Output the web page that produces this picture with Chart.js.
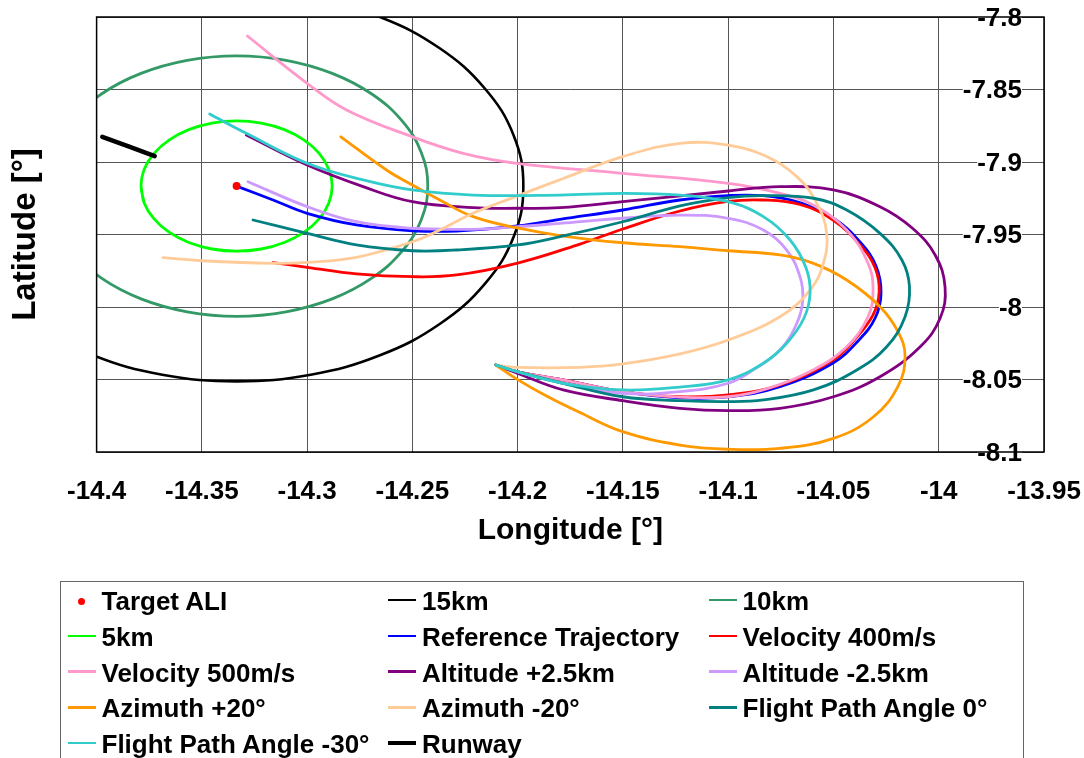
<!DOCTYPE html>
<html>
<head>
<meta charset="utf-8">
<script src="https://cdn.jsdelivr.net/npm/chart.js@4.4.1/dist/chart.umd.min.js"></script>
<style>
  html, body { margin:0; padding:0; background:#fff; }
  #wrap { position:relative; width:1084px; height:758px; overflow:hidden; background:#fff; }
  #chart { position:absolute; left:0; top:0; }
  #legendBox { position:absolute; left:60px; top:581px; width:964px; height:220px; border:1px solid #666; box-sizing:border-box; }
  .lg-text { position:absolute; height:32px; line-height:32px; font-family:"Liberation Sans", Arial, sans-serif; font-weight:bold; font-size:26px; color:#000; white-space:nowrap; }
  .lg-swatch { position:absolute; }
</style>
</head>
<body>
<div id="wrap">
  <canvas id="chart" width="1084" height="758"></canvas>
  <div id="legendBox"></div>
  <div id="legendItems"></div>
</div>
<script>
// ---------- axis ticks ----------
const xTicks = [-14.4, -14.35, -14.3, -14.25, -14.2, -14.15, -14.1, -14.05, -14, -13.95];
const xTickLabels = ['-14.4', '-14.35', '-14.3', '-14.25', '-14.2', '-14.15', '-14.1', '-14.05', '-14', '-13.95'];
const yTicks = [-8.1, -8.05, -8, -7.95, -7.9, -7.85, -7.8];
const yTickLabels = ['-8.1', '-8.05', '-8', '-7.95', '-7.9', '-7.85', '-7.8'];

// ---------- series: [longitude, latitude] ----------
const targetALI = [[-14.3335, -7.9166]];

const circle15km = [[-14.4697,-7.9166],[-14.4651,-7.9515],[-14.4514,-7.9840],[-14.4298,-8.0119],[-14.4016,-8.0333],[-14.3688,-8.0467],[-14.3335,-8.0513],[-14.2983,-8.0467],[-14.2654,-8.0333],[-14.2372,-8.0119],[-14.2156,-7.9840],[-14.2019,-7.9515],[-14.1973,-7.9166],[-14.2019,-7.8817],[-14.2156,-7.8493],[-14.2372,-7.8214],[-14.2654,-7.8000],[-14.2983,-7.7865],[-14.3335,-7.7819],[-14.3688,-7.7865],[-14.4016,-7.8000],[-14.4298,-7.8214],[-14.4514,-7.8493],[-14.4651,-7.8817],[-14.4697,-7.9166]];

const circle10km = [[-14.4243,-7.9166],[-14.4212,-7.9398],[-14.4121,-7.9615],[-14.3977,-7.9801],[-14.3789,-7.9944],[-14.3570,-8.0033],[-14.3335,-8.0064],[-14.3100,-8.0033],[-14.2881,-7.9944],[-14.2693,-7.9801],[-14.2549,-7.9615],[-14.2458,-7.9398],[-14.2427,-7.9166],[-14.2458,-7.8934],[-14.2549,-7.8717],[-14.2693,-7.8531],[-14.2881,-7.8389],[-14.3100,-7.8299],[-14.3335,-7.8268],[-14.3570,-7.8299],[-14.3789,-7.8389],[-14.3977,-7.8531],[-14.4121,-7.8717],[-14.4212,-7.8934],[-14.4243,-7.9166]];

const circle5km = [[-14.3789,-7.9166],[-14.3774,-7.9282],[-14.3728,-7.9391],[-14.3656,-7.9484],[-14.3562,-7.9555],[-14.3452,-7.9600],[-14.3335,-7.9615],[-14.3218,-7.9600],[-14.3108,-7.9555],[-14.3014,-7.9484],[-14.2942,-7.9391],[-14.2897,-7.9282],[-14.2881,-7.9166],[-14.2897,-7.9050],[-14.2942,-7.8942],[-14.3014,-7.8849],[-14.3108,-7.8777],[-14.3218,-7.8732],[-14.3335,-7.8717],[-14.3452,-7.8732],[-14.3562,-7.8777],[-14.3656,-7.8849],[-14.3728,-7.8942],[-14.3774,-7.9050],[-14.3789,-7.9166],[-14.3774,-7.9282]];

const referenceTrajectory = [[-14.3335,-7.9166],[-14.3162,-7.9262],[-14.3000,-7.9354],[-14.2766,-7.9434],[-14.2500,-7.9474],[-14.2290,-7.9476],[-14.2000,-7.9441],[-14.1799,-7.9395],[-14.1501,-7.9331],[-14.1229,-7.9262],[-14.1001,-7.9232],[-14.0835,-7.9232],[-14.0673,-7.9274],[-14.0502,-7.9386],[-14.0374,-7.9552],[-14.0298,-7.9717],[-14.0274,-7.9903],[-14.0302,-8.0076],[-14.0383,-8.0234],[-14.0502,-8.0386],[-14.0754,-8.0550],[-14.1001,-8.0619],[-14.1229,-8.0626],[-14.1501,-8.0584],[-14.1785,-8.0503],[-14.2004,-8.0446],[-14.2104,-8.0400]];

const velocity400 = [[-14.3162,-7.9694],[-14.3000,-7.9726],[-14.2766,-7.9772],[-14.2500,-7.9791],[-14.2290,-7.9779],[-14.2000,-7.9697],[-14.1704,-7.9566],[-14.1501,-7.9462],[-14.1229,-7.9338],[-14.1001,-7.9272],[-14.0835,-7.9262],[-14.0659,-7.9293],[-14.0502,-7.9400],[-14.0374,-7.9572],[-14.0302,-7.9731],[-14.0283,-7.9897],[-14.0312,-8.0055],[-14.0397,-8.0221],[-14.0502,-8.0366],[-14.0754,-8.0538],[-14.1001,-8.0607],[-14.1229,-8.0619],[-14.1501,-8.0584],[-14.1785,-8.0503],[-14.2004,-8.0446],[-14.2104,-8.0400]];

const velocity500 = [[-14.3284,-7.8131],[-14.3000,-7.8457],[-14.2813,-7.8641],[-14.2501,-7.8826],[-14.2259,-7.8940],[-14.2004,-7.9009],[-14.1501,-7.9078],[-14.1000,-7.9147],[-14.0754,-7.9216],[-14.0597,-7.9297],[-14.0437,-7.9469],[-14.0336,-7.9697],[-14.0312,-7.9883],[-14.0336,-8.0067],[-14.0437,-8.0274],[-14.0597,-8.0434],[-14.0835,-8.0572],[-14.1001,-8.0619],[-14.1229,-8.0621],[-14.1501,-8.0584],[-14.1785,-8.0503],[-14.2004,-8.0446],[-14.2104,-8.0400]];

const altitudePlus = [[-14.3289,-7.8814],[-14.3000,-7.9021],[-14.2734,-7.9170],[-14.2500,-7.9274],[-14.2212,-7.9315],[-14.2000,-7.9319],[-14.1799,-7.9315],[-14.1501,-7.9274],[-14.1000,-7.9200],[-14.0754,-7.9170],[-14.0500,-7.9193],[-14.0279,-7.9308],[-14.0126,-7.9455],[-14.0017,-7.9641],[-13.9970,-7.9862],[-13.9993,-8.0076],[-14.0088,-8.0274],[-14.0279,-8.0481],[-14.0500,-8.0619],[-14.0754,-8.0699],[-14.1000,-8.0715],[-14.1229,-8.0699],[-14.1501,-8.0646],[-14.1784,-8.0572],[-14.2002,-8.0457],[-14.2104,-8.0400]];

const altitudeMinus = [[-14.3281,-7.9136],[-14.3000,-7.9308],[-14.2766,-7.9412],[-14.2500,-7.9457],[-14.2212,-7.9464],[-14.2000,-7.9446],[-14.1799,-7.9423],[-14.1501,-7.9388],[-14.1229,-7.9366],[-14.1000,-7.9388],[-14.0833,-7.9469],[-14.0722,-7.9607],[-14.0659,-7.9791],[-14.0646,-7.9952],[-14.0674,-8.0112],[-14.0754,-8.0297],[-14.0881,-8.0434],[-14.1000,-8.0526],[-14.1229,-8.0584],[-14.1501,-8.0595],[-14.1784,-8.0526],[-14.2002,-8.0446],[-14.2104,-8.0400]];

const azimuthPlus = [[-14.2840,-7.8826],[-14.2623,-7.9055],[-14.2500,-7.9159],[-14.2370,-7.9262],[-14.2212,-7.9377],[-14.2001,-7.9455],[-14.1799,-7.9507],[-14.1501,-7.9557],[-14.1229,-7.9584],[-14.1000,-7.9612],[-14.0754,-7.9641],[-14.0595,-7.9699],[-14.0437,-7.9814],[-14.0279,-7.9998],[-14.0193,-8.0172],[-14.0160,-8.0338],[-14.0193,-8.0545],[-14.0310,-8.0757],[-14.0500,-8.0906],[-14.0754,-8.0975],[-14.1000,-8.0981],[-14.1229,-8.0952],[-14.1501,-8.0860],[-14.1704,-8.0728],[-14.1863,-8.0614],[-14.2002,-8.0499],[-14.2104,-8.0400]];

const azimuthMinus = [[-14.3685,-7.9660],[-14.3498,-7.9681],[-14.3162,-7.9699],[-14.3000,-7.9692],[-14.2766,-7.9657],[-14.2500,-7.9550],[-14.2370,-7.9469],[-14.2212,-7.9354],[-14.2001,-7.9234],[-14.1784,-7.9114],[-14.1501,-7.8963],[-14.1229,-7.8871],[-14.1000,-7.8883],[-14.0833,-7.8952],[-14.0674,-7.9101],[-14.0579,-7.9285],[-14.0532,-7.9492],[-14.0548,-7.9699],[-14.0611,-7.9883],[-14.0754,-8.0067],[-14.1000,-8.0228],[-14.1229,-8.0324],[-14.1501,-8.0393],[-14.1704,-8.0416],[-14.2002,-8.0416],[-14.2104,-8.0400]];

const fpa0 = [[-14.3257,-7.9400],[-14.3000,-7.9492],[-14.2766,-7.9572],[-14.2500,-7.9612],[-14.2290,-7.9607],[-14.2000,-7.9572],[-14.1799,-7.9515],[-14.1501,-7.9412],[-14.1229,-7.9303],[-14.1000,-7.9246],[-14.0833,-7.9232],[-14.0595,-7.9250],[-14.0437,-7.9331],[-14.0279,-7.9492],[-14.0175,-7.9676],[-14.0139,-7.9860],[-14.0160,-8.0067],[-14.0247,-8.0274],[-14.0389,-8.0434],[-14.0595,-8.0572],[-14.0833,-8.0641],[-14.1000,-8.0653],[-14.1229,-8.0646],[-14.1501,-8.0619],[-14.1784,-8.0526],[-14.2002,-8.0446],[-14.2104,-8.0400]];

const fpaMinus30 = [[-14.3463,-7.8669],[-14.3289,-7.8802],[-14.3000,-7.9009],[-14.2734,-7.9124],[-14.2501,-7.9193],[-14.2212,-7.9228],[-14.1799,-7.9228],[-14.1501,-7.9216],[-14.1229,-7.9228],[-14.1000,-7.9274],[-14.0833,-7.9377],[-14.0706,-7.9538],[-14.0630,-7.9731],[-14.0611,-7.9903],[-14.0640,-8.0076],[-14.0722,-8.0250],[-14.0833,-8.0388],[-14.1000,-8.0503],[-14.1229,-8.0552],[-14.1501,-8.0572],[-14.1784,-8.0526],[-14.2002,-8.0446],[-14.2104,-8.0400]];

const runway = [[-14.3973,-7.8826],[-14.3724,-7.8959]];

// ---------- build chart ----------
const FONT = '"Liberation Sans", Arial, sans-serif';
const toXY = arr => arr.map(p => ({ x: p[0], y: p[1] }));

function lineSet(label, data, color, width, order) {
  return { label, data: toXY(data), showLine: true, borderColor: color, backgroundColor: color,
           borderWidth: width, pointRadius: 0, pointHoverRadius: 0, tension: 0.4, fill: false, order };
}

const datasets = [
  { label: 'Target ALI', data: toXY(targetALI), showLine: false, pointRadius: 4, pointHoverRadius: 4,
    pointBackgroundColor: '#FF0000', pointBorderWidth: 0, borderColor: '#FF0000', backgroundColor: '#FF0000', order: -100 },
  lineSet('15km', circle15km, '#000000', 2.6, -1),
  lineSet('10km', circle10km, '#339966', 2.8, -2),
  lineSet('5km', circle5km, '#00FF00', 2.8, -3),
  lineSet('Reference Trajectory', referenceTrajectory, '#0000FF', 2.8, -4),
  lineSet('Velocity 400m/s', velocity400, '#FF0000', 2.8, -5),
  lineSet('Velocity 500m/s', velocity500, '#FF99CC', 2.8, -6),
  lineSet('Altitude +2.5km', altitudePlus, '#800080', 2.8, -7),
  lineSet('Altitude -2.5km', altitudeMinus, '#CC99FF', 2.8, -8),
  lineSet('Azimuth +20°', azimuthPlus, '#FF9900', 2.8, -9),
  lineSet('Azimuth -20°', azimuthMinus, '#FFCC99', 2.8, -10),
  lineSet('Flight Path Angle 0°', fpa0, '#008080', 2.8, -11),
  lineSet('Flight Path Angle -30°', fpaMinus30, '#33CCCC', 2.8, -12),
  lineSet('Runway', runway, '#000000', 4.5, -13)
];

const framePlugin = {
  id: 'plotFrame',
  afterDatasetsDraw(chart) {
    const { ctx, chartArea: a } = chart;
    ctx.save();
    ctx.strokeStyle = '#000';
    ctx.lineWidth = 1.5;
    ctx.strokeRect(a.left, a.top, a.right - a.left, a.bottom - a.top);
    ctx.restore();
  }
};

const htmlLegendPlugin = {
  id: 'htmlLegend',
  afterUpdate(chart) {
    const host = document.getElementById('legendItems');
    host.innerHTML = '';
    chart.data.datasets.forEach((ds, i) => {
      const col = i % 3, row = Math.floor(i / 3);
      const cy = 601 + 35.75 * row;
      const dx = 320.5 * col;
      const sw = document.createElement('div');
      sw.className = 'lg-swatch';
      if (ds.showLine === false) {
        sw.style.left = (77.5 + dx) + 'px';
        sw.style.top = (cy - 3.5) + 'px';
        sw.style.width = '7px';
        sw.style.height = '7px';
        sw.style.borderRadius = '50%';
        sw.style.background = ds.pointBackgroundColor;
      } else {
        const h = ds.borderWidth > 3 ? 4 : 2.5;
        sw.style.left = (67.7 + dx) + 'px';
        sw.style.top = (cy - 1 - h / 2) + 'px';
        sw.style.width = '28px';
        sw.style.height = h + 'px';
        sw.style.background = ds.borderColor;
      }
      host.appendChild(sw);
      const tx = document.createElement('div');
      tx.className = 'lg-text';
      tx.style.left = (101.5 + dx) + 'px';
      tx.style.top = (cy - 16) + 'px';
      tx.textContent = ds.label;
      host.appendChild(tx);
    });
  }
};

new Chart(document.getElementById('chart'), {
  type: 'scatter',
  data: { datasets },
  options: {
    responsive: false,
    animation: false,
    devicePixelRatio: 1,
    layout: { padding: { left: 2, top: 17, right: 40, bottom: 205.5 } },
    elements: { line: { capBezierPoints: false, borderCapStyle: 'round', borderJoinStyle: 'round' } },
    plugins: { legend: { display: false }, tooltip: { enabled: false } },
    scales: {
      x: {
        type: 'linear', position: 'bottom', min: -14.4, max: -13.95,
        afterBuildTicks: s => { s.ticks = xTicks.map(v => ({ value: v })); },
        ticks: { autoSkip: false, maxRotation: 0, minRotation: 0, padding: 2, color: '#000',
                 font: { family: FONT, size: 26, weight: 'bold' },
                 callback: (v, i) => xTickLabels[i] },
        grid: { color: '#555', lineWidth: 1, drawTicks: true, tickLength: 22, tickColor: 'rgba(0,0,0,0)' },
        border: { display: false },
        title: { display: true, text: 'Longitude [°]', color: '#000',
                 font: { family: FONT, size: 30, weight: 'bold' }, padding: { top: 3.3, bottom: 4 } }
      },
      y: {
        type: 'linear', position: 'right', min: -8.1, max: -7.8,
        afterBuildTicks: s => { s.ticks = yTicks.map(v => ({ value: v })); },
        ticks: { mirror: true, padding: -22, labelOffset: 1.5, autoSkip: false, color: '#000',
                 showLabelBackdrop: true, backdropColor: '#fff', backdropPadding: 0,
                 font: { family: FONT, size: 26, weight: 'bold' },
                 callback: (v, i) => yTickLabels[i] },
        grid: { color: '#555', lineWidth: 1, drawTicks: false },
        border: { display: false }
      },
      yTitle: {
        type: 'linear', position: 'left', min: -8.1, max: -7.8,
        ticks: { display: false },
        grid: { display: false, drawTicks: false },
        border: { display: false },
        title: { display: true, text: 'Latitude [°]', color: '#000',
                 font: { family: FONT, size: 33, weight: 'bold' }, padding: { top: 4, bottom: 51 } }
      }
    }
  },
  plugins: [framePlugin, htmlLegendPlugin]
});
</script>
</body>
</html>
